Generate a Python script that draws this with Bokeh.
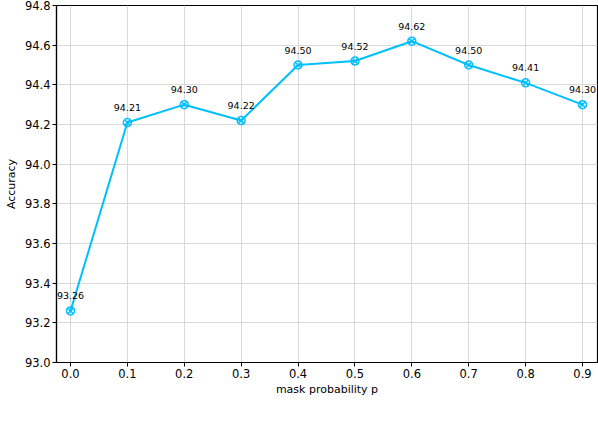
from bokeh.plotting import figure
from bokeh.models import Range1d, FixedTicker, ColumnDataSource
from bokeh.core.properties import value
from bokeh.embed import file_html
from bokeh.resources import INLINE

mask_p = [0.0, 0.1, 0.2, 0.3, 0.4, 0.5, 0.6, 0.7, 0.8, 0.9]
accuracy = [93.26, 94.21, 94.30, 94.22, 94.50, 94.52, 94.62, 94.50, 94.41, 94.30]
value_labels = ["%.2f" % a for a in accuracy]
y_ticks = [93.0, 93.2, 93.4, 93.6, 93.8, 94.0, 94.2, 94.4, 94.6, 94.8]
y_tick_labels = ["%.1f" % t for t in y_ticks]
x_tick_labels = ["%.1f" % t for t in mask_p]

FONT = "DejaVu Sans"
COLOR = "#00BFFF"

p = figure(width=598, height=400, output_backend="svg", toolbar_location=None,
           x_range=Range1d(-0.0246, 0.9264), y_range=Range1d(93.0, 94.8))
p.min_border_left = 56
p.min_border_right = 1
p.min_border_top = 5
p.min_border_bottom = 38
p.background_fill_color = "white"
p.border_fill_color = "white"
p.outline_line_color = "black"
p.outline_line_width = 1.2
p.outline_line_alpha = 1.0

p.xaxis.ticker = FixedTicker(ticks=mask_p)
p.yaxis.ticker = FixedTicker(ticks=y_ticks)
p.xaxis.major_label_overrides = {t: l for t, l in zip(mask_p, x_tick_labels)}
p.yaxis.major_label_overrides = {t: l for t, l in zip(y_ticks, y_tick_labels)}
for ax in (p.xaxis, p.yaxis):
    ax.axis_line_color = "black"
    ax.axis_line_width = 1.2
    ax.major_tick_line_color = "black"
    ax.major_tick_in = 0
    ax.major_tick_out = 4
    ax.minor_tick_line_color = None
    ax.major_label_text_font = FONT
    ax.major_label_text_font_size = "11.5px"
    ax.major_label_text_color = "black"
    ax.major_label_standoff = 2
    ax.axis_label_text_font = FONT
    ax.axis_label_text_font_size = "11px"
    ax.axis_label_text_font_style = "normal"
    ax.axis_label_text_color = "black"
p.yaxis.axis_label = "Accuracy"
p.yaxis.axis_label_standoff = 4
p.xaxis.axis_label = "mask probability p"
p.xaxis.axis_label_standoff = 2

p.xgrid.grid_line_color = "#d9d9d9"
p.ygrid.grid_line_color = "#d9d9d9"
p.xgrid.grid_line_width = 1
p.ygrid.grid_line_width = 1

src = ColumnDataSource(dict(x=mask_p, y=accuracy, lab=value_labels))
p.line("x", "y", source=src, line_color=COLOR, line_width=2)
p.scatter("x", "y", source=src, marker="circle_x", size=8, fill_color=None,
          line_color=COLOR, line_width=1.5)
p.text("x", "y", text="lab", source=src, y_offset=-15, text_align="center",
       text_baseline="middle", text_font=value(FONT), text_font_size="9.5px",
       text_color="black")

open("out.html", "w").write(file_html(p, INLINE))
